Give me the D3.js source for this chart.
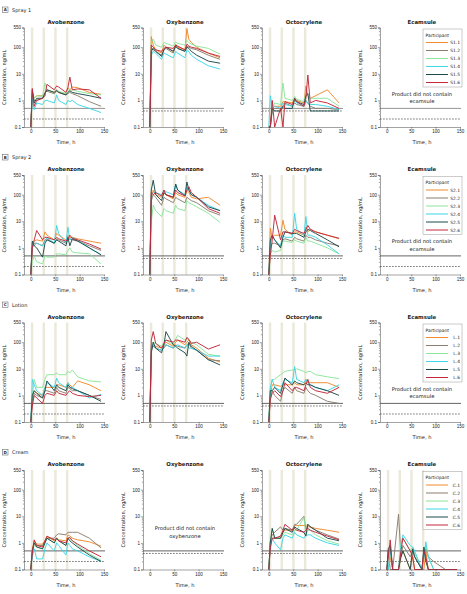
<!DOCTYPE html>
<html><head><meta charset="utf-8">
<script src="https://cdn.jsdelivr.net/npm/d3@7"></script>
<style>body{margin:0;background:#fff}svg{display:block;font-family:"DejaVu Sans",Verdana,sans-serif}</style>
</head><body><svg id="c" width="467" height="594"></svg>
<script>
// sampling times (h)
const times = [0, 3, 7, 12, 24, 29, 33, 48, 53, 57, 72, 76, 80, 85, 96, 120, 144];
const compounds = ["Avobenzone", "Oxybenzone", "Octocrylene", "Ecamsule"];
const lloq = [0.2, 0.4, 0.4, 0.2];
const threshold = 0.5;
const rowLetters = ["A", "B", "C", "D"];
const rowNames = ["Spray 1", "Spray 2", "Lotion", "Cream"];
const idPrefixes = ["S1.", "S2.", "L.", "C."];
const colors = ["#ef8a2d", "#8b7d6f", "#8be59b", "#3fd6e6", "#1d4a4b", "#c2273c"];
const yTicks = [0.1, 1, 10, 100, 550];
const xTicks = [0, 50, 100, 150];
const dosingDays = [0, 24, 48, 72];

// A Spray 1
const s1Avo = [
 [0.1,2,1.2,1.5,1.5,2,2.5,2,2.5,2,1.8,3,2.5,3.2,3,2,1.7],
 [0.1,1.5,1,1,1.2,2,2.2,1.8,2.2,2,1.6,1.8,2,1.8,1.5,0.9,0.6],
 [0.1,2,1.2,1.5,1.4,4.5,2.5,2,2.5,2.2,1.8,2.5,2.2,2.5,2.2,1.8,1.6],
 [0.1,1.2,0.45,0.8,0.7,1,1,0.8,1.6,1,0.7,1,0.9,1,0.7,0.5,0.35],
 [0.1,2.5,0.8,1.2,1.2,1.8,2.5,2,2.4,2,1.6,2,2.3,2,1.8,1.5,1.2],
 [0.1,2.8,0.6,1,1.2,1.5,4,2.5,3.5,3.2,2,3,7.5,2.5,2.7,2.5,1.2]];
const s1Oxy = [
 [0.1,250,120,80,60,120,100,70,130,100,80,500,200,150,100,60,40],
 [0.1,100,80,70,50,80,90,60,110,90,70,110,100,90,80,50,35],
 [0.1,150,200,120,100,150,140,110,160,140,120,180,150,130,110,90,55],
 [0.1,50,70,60,35,60,55,40,70,60,40,80,70,50,35,20,15],
 [0.1,70,90,70,45,80,100,70,110,90,70,100,90,70,50,30,25],
 [0.1,120,100,80,70,90,100,90,120,110,80,130,110,100,90,60,45]];
const s1Oct = [
 [0.1,0.1,0.5,0.6,0.6,0.9,0.9,0.8,1.2,1,0.8,3.5,1.5,1.2,1.5,2.5,0.8],
 [0.1,0.1,0.4,0.5,0.5,0.6,0.8,0.6,0.8,0.7,0.6,1,0.8,0.6,0.5,0.5,0.45],
 [0.1,0.1,0.5,0.8,0.7,4.5,1.2,1,1.4,1.1,0.9,2,1.5,1.2,1.2,1.2,0.6],
 [0.1,1.5,0.5,0.6,0.5,0.8,0.7,0.6,1,0.8,0.6,0.9,0.8,0.7,0.7,0.6,0.45],
 [0.1,0.1,0.5,0.4,0.4,0.6,0.5,0.5,1.2,0.9,0.7,1.5,1.8,0.4,0.4,0.4,0.4],
 [0.1,0.1,1,0.1,0.5,0.1,0.9,0.7,1.1,0.9,0.6,1.2,9,0.8,1,0.8,0.5]];
// B Spray 2
const s2Avo = [
 [0.1,1.5,1.8,2,1.8,4,3,2,3.5,3,2,3,2.5,2.5,2.2,1.8,1.5],
 [0.1,1,1.5,1.5,1.2,2,2.2,1.5,2.2,2,1.5,2,2.2,2,1.8,1.2,0.8],
 [0.1,0.3,0.5,0.3,0.25,0.5,0.45,0.45,0.6,0.6,0.55,0.8,1,0.7,0.65,0.6,0.25],
 [0.1,1.5,1.2,1.5,1.2,1.8,2.5,1.5,7,3.5,1.5,6,2,2.5,2,1,0.55],
 [0.1,1.8,1.2,1,0.45,1.5,2,1.5,2,1.8,1.2,2.5,1.2,2.2,1.8,1,0.55],
 [0.1,1,2,4.5,2,2.5,2.5,2,2.5,2.2,1.8,2.2,3,2.3,2,1.4,0.9]];
const s2Oxy = [
 [0.1,80,150,100,80,120,100,70,120,100,80,150,120,80,70,80,40],
 [0.1,60,100,80,40,80,70,50,80,70,50,80,70,60,50,25,17],
 [0.1,10,40,25,15,30,25,20,40,30,25,60,50,45,35,20,9],
 [0.1,100,120,120,100,150,130,100,250,150,100,200,150,100,80,40,25],
 [0.1,150,350,100,60,120,100,80,250,150,90,300,150,100,80,35,25],
 [0.1,120,100,120,90,150,100,80,150,120,90,150,200,120,80,30,20]];
const s2Oct = [
 [0.1,5.5,2.5,3,3,11,5,3,4,4,3,6,4,5,4,3,2.2],
 [0.1,1,1.5,1.5,1.2,2,2.2,1.8,2.5,2.2,1.8,3,2.5,2.5,2,1.5,1.2],
 [0.1,0.6,0.8,0.7,0.8,1.8,1.8,1.6,2,1.8,1.5,2.5,1.8,1.8,1.5,1,0.6],
 [0.1,1.5,2.5,2,1.2,3,2.5,2.5,20,5,3,15,3,3,2.5,1.3,0.6],
 [0.1,2,3,2,1,2.5,4,3.5,3.5,3.5,2.5,4,5,4.5,3.5,2,1.1],
 [0.1,0.5,2,17,2,4,4,3.5,5,4.5,3.5,5,7,5,4,3,2.3]];
// C Lotion
const lotAvo = [
 [0.1,0.8,1.5,1.2,1,2,2,2,2.5,2.5,2,3,2.5,2,3.5,2.5,1.5],
 [0.1,0.6,1.2,1,0.8,1.5,1.5,1.2,2,1.5,1.2,2,1.8,1.5,1.5,1,0.7],
 [0.1,1,4,2,2,4,6,6,7,6,6,8,7,9,5,3.5,3.2],
 [0.1,4,2.5,1.5,1,2,3,2,4.5,3,2,3,2,2,1.5,0.8,1.1],
 [0.1,1,1.5,1.2,0.8,1.5,3.5,1.5,2.5,2,1.5,2.5,2,1.8,1.5,1,0.6],
 [0.1,0.4,1,0.8,0.5,1,1.2,1,1.5,1.2,1,1.3,1.5,1.2,1,0.9,1]];
const lotOxy = [
 [0.1,60,80,70,60,80,100,70,100,120,80,100,120,80,60,25,18],
 [0.1,50,70,60,50,60,80,60,80,70,60,80,90,60,50,22,20],
 [0.1,80,100,90,70,100,120,80,130,180,120,150,120,100,80,35,30],
 [0.1,70,80,60,50,70,80,60,70,80,60,80,60,60,50,30,30],
 [0.1,40,100,60,40,80,250,80,70,60,40,30,100,70,50,22,14],
 [0.1,120,250,90,60,90,120,100,120,120,100,150,130,90,100,55,80]];
const lotOct = [
 [0.1,1,2.5,2.5,2.2,2.5,2.5,2.5,3,2.5,2.5,4,3,3,3,3,2],
 [0.1,0.8,1.5,1,0.6,1.5,2,1.2,2,1.5,1.2,2,1.5,1.2,1,0.6,0.5],
 [0.1,1.5,4,4,6,7,8,9,9,10,8,7,8,8,6,5,4.3],
 [0.1,2,4,2,1.5,3,4,3,12,4,3,4,3,2.5,2,1.5,2.5],
 [0.1,1.5,1.5,2,1.2,2.5,4.5,2.5,3.5,3,2.5,3,2.5,2.5,2,1.5,1],
 [0.1,0.7,1.2,1.5,0.9,1.5,3,1.5,2,2,1.5,2.5,4,2,1.5,1.2,2]];
// D Cream
const crmAvo = [
 [0.1,0.6,1.2,0.9,0.9,1.2,1.7,1.2,1.5,1.3,1.2,2,1.8,1.5,1.3,1.1,0.75],
 [0.1,0.5,1,0.8,0.8,1.2,1.5,1.5,2,2.2,2,2.5,2.5,2.5,2.5,1.5,0.65],
 [0.1,0.5,0.8,0.7,0.6,1,1.5,1,1.5,1.3,0.8,1.5,1.5,1.2,0.8,0.4,0.22],
 [0.1,0.3,0.6,0.25,0.25,0.6,1,0.5,1,0.8,0.35,1,0.8,0.6,0.5,0.3,0.2],
 [0.1,0.5,1,0.7,0.6,1,1.5,1,1.5,1.2,0.8,1.5,1.2,1,0.7,0.35,0.2],
 [0.1,0.4,1.3,0.8,0.7,1.2,1.8,1.3,1.5,1.2,1,1.5,1.6,1.2,0.9,0.5,0.3]];
const crmOct = [
 [0.1,1,1.5,1.5,1.5,2.5,3,3,4.5,4.5,4.5,4.5,4,4,3.5,3,2.5],
 [0.1,1.2,2,2.5,4,3,3.5,3,5,5,10,3,5,4,3,2,1.4],
 [0.1,1,3.5,1.5,1.5,2,2.5,2,3,3,9,2,3,3,2,1.2,0.9],
 [0.1,0.9,1.5,1,0.55,1.5,2,1.5,2.5,2,1.5,2,2,2,1.5,1,0.8],
 [0.1,1,3.5,1.5,1.5,2.5,3.5,2.5,4,3.5,2.5,1.8,5,4,3,1.5,1.2],
 [0.1,0.6,1.5,1.5,1.8,3,5,3,3.5,3,2.5,3,3.5,3,2.5,1.8,1.3]];
const crmEca = [
 [0.1,0.1,0.3,0.1,0.1,0.3,0.5,0.1,0.3,0.1,0.1,0.1,0.5,0.1,0.1,0.1,0.1],
 [0.1,0.5,0.1,0.1,12,0.3,0.8,0.3,0.5,0.3,0.1,0.3,0.6,0.3,0.2,0.1,0.1],
 [0.1,0.1,0.5,0.1,0.1,1,1.5,0.5,0.7,0.4,0.1,0.5,0.8,0.3,0.1,0.1,0.1],
 [0.1,0.1,0.6,0.1,0.1,0.8,2,0.8,0.7,0.5,0.1,0.3,1.1,0.3,0.1,0.1,0.1],
 [0.1,0.6,0.8,0.1,0.1,0.3,0.5,0.1,0.6,0.3,0.1,0.7,0.2,0.1,0.1,0.1,0.1],
 [0.1,0.3,1.3,0.1,0.1,0.5,1.5,0.5,0.3,0.1,0.1,0.5,0.3,0.1,0.1,0.1,0.1]];

const panelData = [
  [s1Avo, s1Oxy, s1Oct, null],
  [s2Avo, s2Oxy, s2Oct, null],
  [lotAvo, lotOxy, lotOct, null],
  [crmAvo, null, crmOct, crmEca]];

const svg = d3.select("#c");
const colX = [24, 143, 262, 380];
const rowY = [27.5, 175, 322.5, 470];
const pw = 80, ph = 99.5;
const minorTicks = [];
[0.1, 1, 10, 100].forEach(d => { for (let k = 2; k <= 9; k++) { const v = d * k; if (v < 550) minorTicks.push(v); } });

rowLetters.forEach((L, r) => {
  const top = rowY[r];
  const g0 = svg.append("g");
  g0.append("rect").attr("x", 2.5).attr("y", top - 20.5).attr("width", 5.5).attr("height", 5.5)
    .attr("fill", "#fff").attr("stroke", "#555").attr("stroke-width", 0.5);
  g0.append("text").attr("x", 5.25).attr("y", top - 16.3).attr("text-anchor", "middle")
    .attr("font-size", 4).attr("font-weight", "bold").attr("fill", "#222").text(L);
  g0.append("text").attr("x", 12).attr("y", top - 16).attr("font-size", 5).attr("fill", "#222").text(rowNames[r]);

  compounds.forEach((comp, c) => {
    const left = colX[c];
    const x = d3.scaleLinear().domain([-14, 150]).range([left, left + pw]);
    const y = d3.scaleLog().domain([0.1, 550]).range([top + ph, top]);
    const g = svg.append("g");
    const data = panelData[r][c];

    g.append("text").attr("x", x(72)).attr("y", top - 4).attr("text-anchor", "middle")
      .attr("font-size", 5.4).attr("font-weight", "600").attr("fill", "#222").text(comp);

    if (data) {
      dosingDays.forEach(d => {
        g.append("rect").attr("x", x(d)).attr("y", top).attr("width", x(d + 5) - x(d))
          .attr("height", ph).attr("fill", "#ebe9da");
      });
    }
    // reference lines
    g.append("line").attr("x1", left).attr("x2", x(150) + 1).attr("y1", y(threshold)).attr("y2", y(threshold))
      .attr("stroke", r === 0 ? "#888" : "#555").attr("stroke-width", 0.9);
    g.append("line").attr("x1", left).attr("x2", x(150) + 1).attr("y1", y(lloq[c])).attr("y2", y(lloq[c]))
      .attr("stroke", "#333").attr("stroke-width", 0.6).attr("stroke-dasharray", "1.8,1.2");

    if (data) {
      const line = d3.line().x((d, i) => x(times[i])).y(d => y(d));
      data.forEach((s, i) => {
        g.append("path").attr("d", line(s)).attr("fill", "none").attr("stroke", colors[i])
          .attr("stroke-width", 0.95).attr("stroke-linejoin", "round");
      });
    } else {
      const nm = comp.toLowerCase();
      const ty = c === 3 ? top + 68 : top + 60;
      g.append("text").attr("x", x(72)).attr("y", ty).attr("text-anchor", "middle")
        .attr("font-size", 5.2).attr("fill", "#222").text("Product did not contain");
      g.append("text").attr("x", x(72)).attr("y", ty + 7.5).attr("text-anchor", "middle")
        .attr("font-size", 5.2).attr("fill", "#222").text(nm);
    }

    // y axis
    g.append("g").attr("transform", `translate(${left},0)`)
      .call(d3.axisLeft(y).tickValues(yTicks).tickSize(2).tickPadding(1).tickFormat(d => String(d)));
    g.append("g").attr("transform", `translate(${left},0)`)
      .call(d3.axisLeft(y).tickValues(minorTicks).tickSize(1.1).tickFormat(""))
      .call(s => s.select(".domain").remove());
    // x axis
    g.append("g").attr("transform", `translate(0,${top + ph})`)
      .call(d3.axisBottom(x).tickValues(xTicks).tickSize(1.8).tickPadding(1.2).tickSizeOuter(0));
    g.selectAll(".tick text").attr("font-size", 4.5).attr("fill", "#222").attr("font-family", null);
    g.selectAll(".domain, .tick line").attr("stroke", "#444").attr("stroke-width", 0.5);

    g.append("text").attr("x", x(72)).attr("y", top + ph + 17).attr("text-anchor", "middle")
      .attr("font-size", 5.1).attr("fill", "#222").text("Time, h");
    g.append("text").attr("transform", `translate(${left - 18},${top + ph / 2}) rotate(-90)`)
      .attr("text-anchor", "middle").attr("font-size", 5.1).attr("fill", "#222").text("Concentration, ng/mL");

    // legend
    if (c === 3) {
      const lx = 423, ly = top + 1.5;
      const lg = g.append("g");
      lg.append("rect").attr("x", lx).attr("y", ly).attr("width", 39).attr("height", 58)
        .attr("fill", "#fff").attr("stroke", "#999").attr("stroke-width", 0.5);
      lg.append("text").attr("x", lx + 2.5).attr("y", ly + 7.5).attr("font-size", 4.4).attr("fill", "#222").text("Participant");
      colors.forEach((col, i) => {
        const yy = ly + 13.5 + i * 8;
        lg.append("line").attr("x1", lx + 3).attr("x2", lx + 25).attr("y1", yy).attr("y2", yy)
          .attr("stroke", col).attr("stroke-width", 1);
        lg.append("text").attr("x", lx + 37).attr("y", yy + 1.5).attr("text-anchor", "end")
          .attr("font-size", 4.4).attr("fill", "#222").text(idPrefixes[r] + (i + 1));
      });
    }
  });
});
</script></body></html>
